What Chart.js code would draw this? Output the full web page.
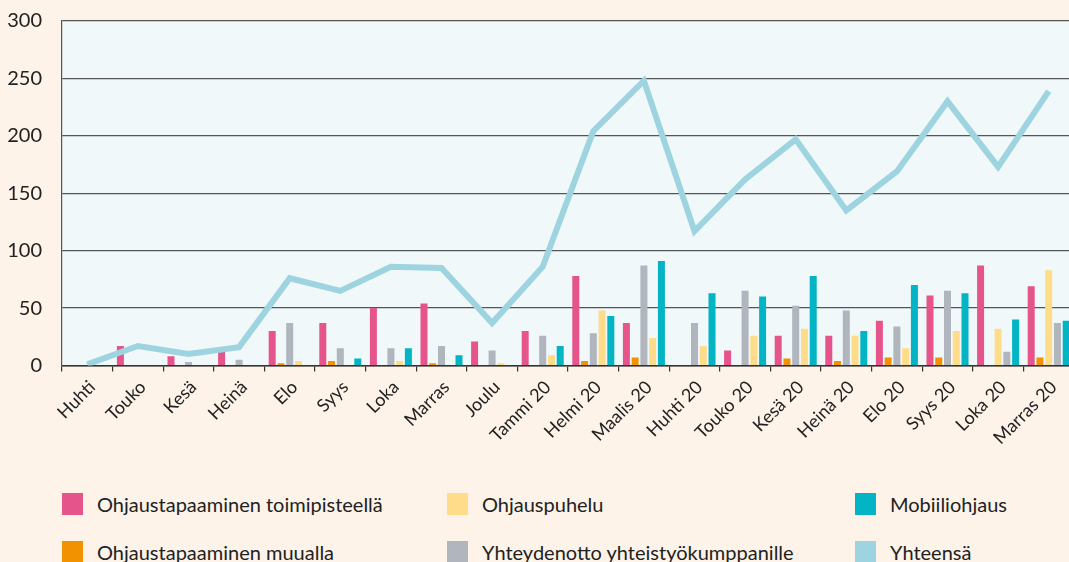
<!DOCTYPE html>
<html>
<head>
<meta charset="utf-8">
<script src="https://cdn.jsdelivr.net/npm/chart.js@4/dist/chart.umd.min.js"></script>
<style>
  html, body { margin: 0; padding: 0; }
  body { width: 1069px; height: 562px; overflow: hidden; background: rgb(253,243,233); position: relative;
         font-family: Lato, "Open Sans", sans-serif; }
  #wrap { position: absolute; left: 0; top: -11px; width: 1080px; height: 481px; }
  .lg { position: absolute; display: flex; align-items: center; font-size: 20px; color: #222; white-space: nowrap; }
  .lg .sw { width: 21px; height: 22px; margin-right: 14px; flex: none; }
</style>
</head>
<body>
<div id="wrap"><canvas id="c" width="1080" height="481"></canvas></div>
<div id="legend"></div>
<script>
// ---- data ----
const months = ['Huhti','Touko','Kesä','Heinä','Elo','Syys','Loka','Marras','Joulu','Tammi 20','Helmi 20','Maalis 20','Huhti 20','Touko 20','Kesä 20','Heinä 20','Elo 20','Syys 20','Loka 20','Marras 20'];
const toimipisteella = [0, 17, 8, 13, 30, 37, 50, 54, 21, 30, 78, 37, 0, 13, 26, 26, 39, 61, 87, 69];
const muualla       = [0, 0, 0, 0, 2, 4, 0, 2, 0, 0, 4, 7, 0, 0, 6, 4, 7, 7, 0, 7];
const ohjauspuhelu  = [0, 0, 0, 0, 4, 0, 4, 0, 2, 9, 48, 24, 17, 26, 32, 26, 15, 30, 32, 83];
const yhteydenotto  = [0, 0, 3, 5, 37, 15, 15, 17, 13, 26, 28, 87, 37, 65, 52, 48, 34, 65, 12, 37];
const mobiiliohjaus = [0, 0, 0, 0, 0, 6, 15, 9, 0, 17, 43, 91, 63, 60, 78, 30, 70, 63, 40, 39];
const yhteensa      = [1, 17, 10, 16, 76, 65, 86, 85, 37, 86, 204, 248, 117, 162, 197, 135, 169, 230, 173, 239];
const yTicks = [0, 50, 100, 150, 200, 250, 300];
// months where the call bar is drawn before the partner-contact bar
const puheluFirst = ['Loka 20', 'Marras 20'];
const names = ['Ohjaustapaaminen toimipisteellä','Ohjaustapaaminen muualla','Ohjauspuhelu','Yhteydenotto yhteistyökumppanille','Mobiiliohjaus','Yhteensä'];

// ---- styles ----
const C = {
  pink: 'rgb(229,84,138)', orange: 'rgb(242,146,0)', yellow: 'rgb(254,220,138)',
  gray: 'rgb(176,181,190)', teal: 'rgb(3,180,197)', line: 'rgb(157,212,224)'
};
const FONT = 'Lato, "Open Sans", sans-serif';

const swap = months.map(m => puheluFirst.includes(m));
const slot3 = months.map((m, i) => swap[i] ? ohjauspuhelu[i] : yhteydenotto[i]);
const slot3c = swap.map(s => s ? C.yellow : C.gray);
const slot4 = months.map((m, i) => swap[i] ? yhteydenotto[i] : ohjauspuhelu[i]);
const slot4c = swap.map(s => s ? C.gray : C.yellow);

const bg = {
  id: 'plotBg',
  beforeDraw(chart) {
    const a = chart.chartArea, ctx = chart.ctx;
    ctx.save();
    ctx.fillStyle = 'rgb(240,248,250)';
    ctx.fillRect(a.left, a.top, a.right - a.left, a.bottom - a.top);
    ctx.restore();
  }
};

const barCommon = { type: 'bar', order: 1, categoryPercentage: 0.865, barPercentage: 0.8, borderWidth: 0 };

new Chart(document.getElementById('c'), {
  data: {
    labels: months,
    datasets: [
      { ...barCommon, label: names[0], data: toimipisteella, backgroundColor: C.pink },
      { ...barCommon, label: names[1], data: muualla, backgroundColor: C.orange },
      { ...barCommon, label: names[3], data: slot3, backgroundColor: slot3c },
      { ...barCommon, label: names[2], data: slot4, backgroundColor: slot4c },
      { ...barCommon, label: names[4], data: mobiiliohjaus, backgroundColor: C.teal },
      { type: 'line', order: 0, label: names[5], data: yhteensa, borderColor: C.line, borderWidth: 6,
        pointRadius: 0, tension: 0, fill: false, borderJoinStyle: 'miter', borderCapStyle: 'butt' }
    ]
  },
  options: {
    responsive: false,
    devicePixelRatio: 1,
    animation: false,
    layout: { padding: { top: 9, right: 6, left: 0, bottom: 0 } },
    plugins: { legend: { display: false }, tooltip: { enabled: false } },
    scales: {
      x: {
        type: 'category',
        offset: true,
        grid: { display: true, drawOnChartArea: false, drawTicks: true, tickLength: 6, color: '#333', lineWidth: 1.2, offset: true },
        border: { display: true, color: '#333', width: 1.5 },
        ticks: { minRotation: 45, maxRotation: 45, autoSkip: false, color: '#222', padding: 5, labelOffset: 5,
                 font: { family: FONT, size: 18 } },
        afterFit: s => { s.height = 104.5; }
      },
      y: {
        min: 0, max: 300,
        afterBuildTicks: s => { s.ticks = yTicks.map(v => ({ value: v })); },
        grid: { color: '#555', lineWidth: 1.2, drawTicks: false },
        border: { display: true, color: '#555', width: 1.2 },
        ticks: { color: '#222', padding: 20, font: { family: FONT, size: 20 } },
        afterFit: s => { s.width = 62; }
      }
    }
  },
  plugins: [bg]
});

// ---- legend (HTML text) ----
const legendItems = [
  { name: names[0], color: C.pink, x: 62, y: 492 },
  { name: names[2], color: C.yellow, x: 447, y: 492 },
  { name: names[4], color: C.teal, x: 855, y: 492 },
  { name: names[1], color: C.orange, x: 62, y: 540 },
  { name: names[3], color: C.gray, x: 447, y: 540 },
  { name: names[5], color: C.line, x: 855, y: 540 }
];
const lg = document.getElementById('legend');
legendItems.forEach(it => {
  const d = document.createElement('div');
  d.className = 'lg';
  d.style.left = it.x + 'px';
  d.style.top = it.y + 'px';
  const sw = document.createElement('span');
  sw.className = 'sw';
  sw.style.background = it.color;
  const t = document.createElement('span');
  t.textContent = it.name;
  d.appendChild(sw); d.appendChild(t);
  lg.appendChild(d);
});
</script>
</body>
</html>
